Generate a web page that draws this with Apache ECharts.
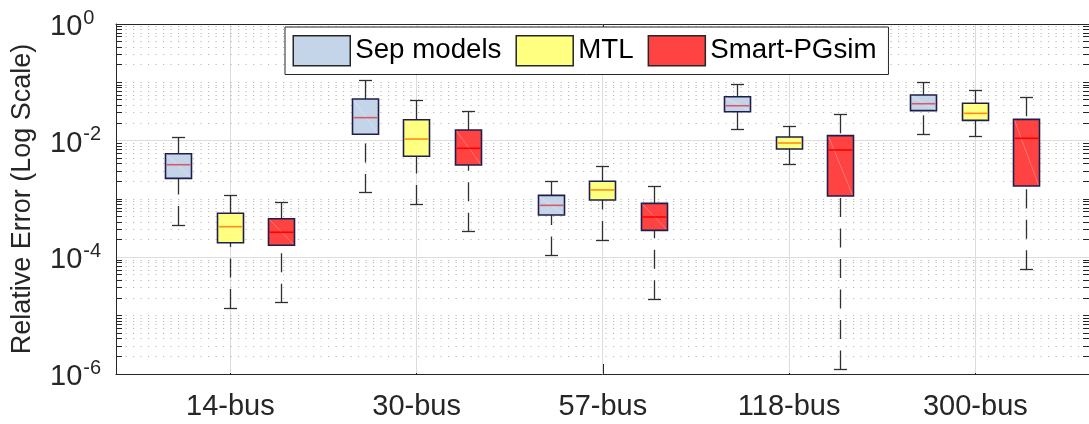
<!DOCTYPE html>
<html><head><meta charset="utf-8">
<script src="https://cdn.jsdelivr.net/npm/echarts@6/dist/echarts.min.js"></script>
<style>html,body{margin:0;padding:0;background:#fff;}#c{width:1089px;height:424px;}</style>
</head><body><div id="c"></div>
<script>
// ---------------- data ----------------
const categories = ['14-bus', '30-bus', '57-bus', '118-bus', '300-bus'];
// each row: [lower whisker, Q1, median, Q3, upper whisker]
const sepModels = [
  [3.58e-4, 2.26e-3, 3.87e-3, 5.98e-3, 1.14e-2],
  [1.27e-3, 1.285e-2, 2.48e-2, 5.18e-2, 1.096e-1],
  [1.08e-4, 5.32e-4, 7.79e-4, 1.156e-3, 2.03e-3],
  [1.58e-2, 3.14e-2, 3.97e-2, 5.67e-2, 9.36e-2],
  [1.285e-2, 3.27e-2, 4.30e-2, 6.07e-2, 1.0e-1]
];
const mtl = [
  [1.35e-5, 1.78e-4, 3.35e-4, 5.69e-4, 1.14e-3],
  [8.2e-4, 5.4e-3, 1.067e-2, 2.29e-2, 4.85e-2],
  [1.98e-4, 9.61e-4, 1.43e-3, 2.01e-3, 3.63e-3],
  [3.98e-3, 7.2e-3, 9.12e-3, 1.155e-2, 1.78e-2],
  [1.169e-2, 2.23e-2, 2.94e-2, 4.37e-2, 7.3e-2]
];
const smartPGsim = [
  [1.67e-5, 1.61e-4, 2.69e-4, 4.59e-4, 8.64e-4],
  [2.75e-4, 3.83e-3, 7.4e-3, 1.523e-2, 3.14e-2],
  [1.91e-5, 2.9e-4, 4.91e-4, 8.43e-4, 1.67e-3],
  [1.2e-6, 1.125e-3, 6.92e-3, 1.218e-2, 2.83e-2],
  [6.23e-5, 1.67e-3, 1.097e-2, 2.32e-2, 5.54e-2]
];
const seriesNames = ['Sep models', 'MTL', 'Smart-PGsim'];
const yTickValues = [1e-6, 1e-4, 1e-2, 1];
const xTickValues = [1, 2, 3, 4, 5];
const yMinorValues = [];
for (let e = -6; e < 0; e++) {
  for (let m = 1; m <= 9; m++) {
    if (m === 1 && e % 2 === 0) continue;
    yMinorValues.push(+(m * Math.pow(10, e)).toPrecision(6));
  }
}
const yMajorInner = [1e-4, 1e-2];

// ---------------- styling ----------------
const FONT = 'Liberation Sans, Arial, Helvetica, sans-serif';
const AX = '#262626';
const X_MIN = 0.386, X_MAX = 5.61;
const BOX_W = 0.14, OFFS = [-0.277, 0, 0.277];
const FILLS = ['#c4d5e9', '#ffff80', '#ff4242'];
const MEDS = ['#d9596b', '#ff8c1a', '#ff0000'];

const chart = echarts.init(document.getElementById('c'), null, {renderer: 'canvas'});
const r5 = v => Math.round(v - 0.5) + 0.5;

function boxRender(k) {
  return function (params, api) {
    const x = api.value(0) + OFFS[k];
    const lo = api.value(1), q1 = api.value(2), md = api.value(3), q3 = api.value(4), hi = api.value(5);
    const cx = r5(api.coord([x, md])[0]);
    const xl = api.coord([x - BOX_W / 2, md])[0];
    const xr = api.coord([x + BOX_W / 2, md])[0];
    const hw = (xr - xl) / 2;
    const yLo = api.coord([x, lo])[1], yQ1 = api.coord([x, q1])[1], yMd = api.coord([x, md])[1];
    const yQ3 = api.coord([x, q3])[1], yHi = api.coord([x, hi])[1];
    const wStyle = {stroke: '#303030', lineWidth: 1.3, lineDash: [19, 11.5]};
    const cStyle = {stroke: '#303030', lineWidth: 1.3};
    const L = Math.round(cx - hw) + 0.5, R = Math.round(cx + hw) - 0.5;
    return {
      type: 'group',
      children: [
        {type: 'line', shape: {x1: cx, y1: yLo, x2: cx, y2: yQ1}, style: wStyle},
        {type: 'line', shape: {x1: cx, y1: yHi, x2: cx, y2: yQ3}, style: wStyle},
        {type: 'line', shape: {x1: cx - hw / 2, y1: r5(yLo), x2: cx + hw / 2, y2: r5(yLo)}, style: cStyle},
        {type: 'line', shape: {x1: cx - hw / 2, y1: r5(yHi), x2: cx + hw / 2, y2: r5(yHi)}, style: cStyle},
        {type: 'rect', shape: {x: L, y: yQ3, width: R - L, height: yQ1 - yQ3},
          style: {fill: FILLS[k], stroke: '#1e1e4c', lineWidth: 1.6}},
        {type: 'line', shape: {x1: L + 1, y1: yQ3 + 1, x2: R - 1, y2: yQ1 - 1},
          style: {stroke: 'rgba(255,255,255,0.28)', lineWidth: 1}},
        {type: 'line', shape: {x1: L + 1, y1: yMd, x2: R - 1, y2: yMd},
          style: {stroke: MEDS[k], lineWidth: 1.6}}
      ]
    };
  };
}

const boxSeries = [sepModels, mtl, smartPGsim].map((arr, k) => ({
  type: 'custom',
  name: seriesNames[k],
  z: 5,
  silent: true,
  clip: false,
  dimensions: ['pos', 'lo', 'q1', 'med', 'q3', 'hi'],
  encode: {x: 0, y: [1, 2, 3, 4, 5]},
  itemStyle: {color: FILLS[k]},
  data: arr.map((d, i) => [xTickValues[i]].concat(d)),
  renderItem: boxRender(k)
}));

const minorGridSeries = {
  type: 'custom', silent: true, z: 1, clip: false,
  encode: {x: 0, y: 1},
  data: yMinorValues.map(v => [X_MIN, v]),
  renderItem: function (params, api) {
    const cs = params.coordSys;
    const y = r5(api.coord([X_MIN, api.value(1)])[1]);
    return {type: 'group', children: [
      {type: 'line', shape: {x1: cs.x + 2, y1: y, x2: cs.x + cs.width - 2, y2: y},
        style: {stroke: '#b8b8b8', lineWidth: 1, lineDash: [1.2, 6.3]}},
      {type: 'line', shape: {x1: cs.x, y1: y, x2: cs.x + 6, y2: y}, style: {stroke: AX, lineWidth: 1}},
      {type: 'line', shape: {x1: cs.x + cs.width - 6, y1: y, x2: cs.x + cs.width, y2: y}, style: {stroke: AX, lineWidth: 1}}
    ]};
  }
};
const majorHGridSeries = {
  type: 'custom', silent: true, z: 1, clip: false,
  encode: {x: 0, y: 1},
  data: yMajorInner.map(v => [X_MIN, v]),
  renderItem: function (params, api) {
    const cs = params.coordSys;
    const y = r5(api.coord([X_MIN, api.value(1)])[1]);
    return {type: 'line', shape: {x1: cs.x + 1, y1: y, x2: cs.x + cs.width, y2: y},
      style: {stroke: '#dcdcdc', lineWidth: 1}};
  }
};
const majorVGridSeries = {
  type: 'custom', silent: true, z: 1, clip: false,
  encode: {x: 0, y: 1},
  data: xTickValues.map(v => [v, 1e-2]),
  renderItem: function (params, api) {
    const cs = params.coordSys;
    const x = r5(api.coord([api.value(0), 1e-2])[0]);
    return {type: 'line', shape: {x1: x, y1: cs.y + 1, x2: x, y2: cs.y + cs.height - 1},
      style: {stroke: '#dcdcdc', lineWidth: 1}};
  }
};

const yAxisBase = {
  type: 'log', logBase: 10, min: 1e-6, max: 1,
  axisLine: {show: true, lineStyle: {color: AX, width: 1}},
  axisTick: {show: true, inside: true, length: 10, customValues: yTickValues, lineStyle: {color: AX, width: 1}},
  splitLine: {show: false}, minorTick: {show: false}, minorSplitLine: {show: false}
};
const xAxisBase = {
  type: 'value', min: X_MIN, max: X_MAX,
  axisLine: {show: true, onZero: false, lineStyle: {color: AX, width: 1}},
  axisTick: {show: true, inside: true, length: 10, customValues: xTickValues, lineStyle: {color: AX, width: 1}},
  splitLine: {show: false}
};

chart.setOption({
  animation: false,
  backgroundColor: '#fff',
  grid: {left: 116, top: 24, width: 974, height: 350, containLabel: false},
  legend: {
    left: 285, top: 27, orient: 'horizontal', selectedMode: false,
    itemWidth: 57, itemHeight: 30, itemGap: 14,
    padding: [8, 12, 8, 7.5],
    backgroundColor: '#fff', borderColor: '#262626', borderWidth: 1,
    textStyle: {fontSize: 27.7, color: '#000', fontFamily: FONT},
    data: seriesNames.map((n, k) => ({name: n, icon: 'rect',
      itemStyle: {color: FILLS[k], borderColor: '#262626', borderWidth: 1.5}}))
  },
  xAxis: [
    Object.assign({}, xAxisBase, {
      position: 'bottom',
      axisLabel: {show: true, customValues: xTickValues, margin: 18, color: AX, fontSize: 29, fontFamily: FONT,
        formatter: v => categories[Math.round(v) - 1] || ''}
    }),
    Object.assign({}, xAxisBase, {position: 'top', axisLabel: {show: false}})
  ],
  yAxis: [
    Object.assign({}, yAxisBase, {
      position: 'left',
      name: 'Relative Error (Log Scale)', nameLocation: 'middle', nameRotate: 90, nameGap: 80,
      nameTextStyle: {fontSize: 27, color: AX, fontFamily: FONT},
      axisLabel: {show: true, customValues: yTickValues, align: 'left', margin: 66,
        padding: [6, 0, 0, 0],
        formatter: v => '{b|10}{s|' + Math.round(Math.log10(v)) + '}',
        rich: {
          b: {fontSize: 29, color: AX, fontFamily: FONT},
          s: {fontSize: 20, color: AX, fontFamily: FONT, padding: [0, 0, 18, 1]}
        }}
    }),
    Object.assign({}, yAxisBase, {position: 'right', axisLabel: {show: false}})
  ],
  series: [majorHGridSeries, majorVGridSeries, minorGridSeries].concat(boxSeries)
});
</script></body></html>
